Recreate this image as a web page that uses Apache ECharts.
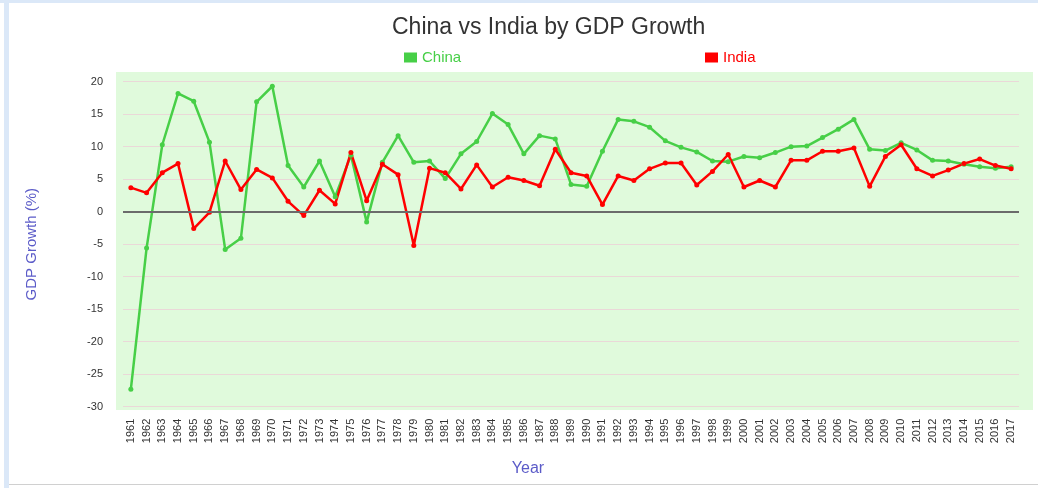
<!DOCTYPE html>
<html>
<head>
<meta charset="utf-8">
<script src="https://cdn.jsdelivr.net/npm/echarts@6/dist/echarts.min.js"></script>
<style>
    body { margin: 0; background: #fff; }
    #wrap { position: relative; width: 1038px; height: 488px; overflow: hidden; }
    #main { position: absolute; left: 0; top: 0; width: 1038px; height: 488px; }
    .edge-l { position: absolute; left: 4px; top: 0; width: 5px; height: 488px; background: #dbe8f8; }
    .edge-t { position: absolute; left: 0; top: 0; width: 1038px; height: 3px; background: #dbe8f8; }
    .edge-b { position: absolute; left: 9px; top: 484px; width: 1029px; height: 1px; background: #d0d0d0; }
</style>
</head>
<body>
<div id="wrap">
    <div id="main"></div>
    <div class="edge-l"></div>
    <div class="edge-t"></div>
    <div class="edge-b"></div>
</div>
<script>
// 年份
var years = ['1961','1962','1963','1964','1965','1966','1967','1968','1969','1970',
    '1971','1972','1973','1974','1975','1976','1977','1978','1979','1980',
    '1981','1982','1983','1984','1985','1986','1987','1988','1989','1990',
    '1991','1992','1993','1994','1995','1996','1997','1998','1999','2000',
    '2001','2002','2003','2004','2005','2006','2007','2008','2009','2010',
    '2011','2012','2013','2014','2015','2016','2017'];

// GDP growth (%)
var china = [-27.3, -5.6, 10.3, 18.2, 17.0, 10.7, -5.8, -4.1, 16.9, 19.3,
    7.1, 3.8, 7.8, 2.3, 8.7, -1.6, 7.6, 11.7, 7.6, 7.8,
    5.1, 8.9, 10.8, 15.1, 13.4, 8.9, 11.7, 11.2, 4.2, 3.9,
    9.3, 14.2, 13.9, 13.0, 10.9, 9.9, 9.2, 7.8, 7.7, 8.5,
    8.3, 9.1, 10.0, 10.1, 11.4, 12.7, 14.2, 9.6, 9.4, 10.6,
    9.5, 7.9, 7.8, 7.3, 6.9, 6.7, 6.9];
var india = [3.7, 2.9, 6.0, 7.4, -2.6, -0.1, 7.8, 3.4, 6.5, 5.2,
    1.6, -0.6, 3.3, 1.2, 9.1, 1.7, 7.3, 5.7, -5.2, 6.7,
    6.0, 3.5, 7.2, 3.8, 5.3, 4.8, 4.0, 9.6, 6.0, 5.5,
    1.1, 5.5, 4.8, 6.6, 7.5, 7.5, 4.1, 6.2, 8.8, 3.8,
    4.8, 3.8, 7.9, 7.9, 9.3, 9.3, 9.8, 3.9, 8.5, 10.3,
    6.6, 5.5, 6.4, 7.4, 8.1, 7.1, 6.6];

var yTicks = { min: -30, max: 20, interval: 5 };

var greenColor = '#47cf47';
var redColor = '#ff0000';
var nameColor = '#5b5bc8';

var myChart = echarts.init(document.getElementById('main'));
var option = {
    animation: false,
    textStyle: { fontFamily: 'Liberation Sans, Arial, sans-serif' },
    title: {
        text: 'China vs India by GDP Growth',
        left: 387,
        top: 11,
        textStyle: { fontSize: 23, fontWeight: 'normal', color: '#333' }
    },
    legend: [
        {
            data: ['China'],
            left: 399,
            top: 45,
            icon: 'rect',
            itemWidth: 13,
            itemHeight: 10,
            itemGap: 8,
            textStyle: { color: greenColor, fontSize: 15 }
        },
        {
            data: ['India'],
            left: 700,
            top: 45,
            icon: 'rect',
            itemWidth: 13,
            itemHeight: 10,
            textStyle: { color: redColor, fontSize: 15 }
        }
    ],
    grid: {
        left: 123,
        right: 19,
        top: 81.7,
        bottom: 81.3
    },
    graphic: [
        {
            type: 'rect',
            z: -10,
            shape: { x: 116, y: 72, width: 917, height: 338 },
            style: { fill: '#e0fadc' }
        }
    ],
    xAxis: {
        type: 'category',
        data: years,
        name: 'Year',
        nameLocation: 'middle',
        nameGap: 54,
        nameTextStyle: { color: nameColor, fontSize: 16, padding: [0, 86, 0, 0] },
        axisLine: { show: false, onZero: false },
        axisTick: { show: false },
        axisLabel: {
            rotate: 90,
            interval: 0,
            margin: 12,
            color: '#333',
            fontSize: 11
        }
    },
    yAxis: {
        type: 'value',
        min: yTicks.min,
        max: yTicks.max,
        interval: yTicks.interval,
        name: 'GDP Growth (%)',
        nameLocation: 'middle',
        nameGap: 84,
        nameTextStyle: { color: nameColor, fontSize: 15 },
        axisLine: { show: false },
        axisTick: { show: false },
        axisLabel: { color: '#333', fontSize: 11, margin: 20 },
        splitLine: { lineStyle: { color: '#ead8d8', width: 1 } }
    },
    series: [
        {
            name: 'China',
            type: 'line',
            data: china,
            color: greenColor,
            symbol: 'circle',
            symbolSize: 5,
            lineStyle: { width: 2.5 },
            markLine: {
                silent: true,
                symbol: 'none',
                label: { show: false },
                lineStyle: { color: '#6b6b6b', width: 2, type: 'solid' },
                data: [{ yAxis: 0 }]
            }
        },
        {
            name: 'India',
            type: 'line',
            data: india,
            color: redColor,
            symbol: 'circle',
            symbolSize: 5,
            lineStyle: { width: 2.5 }
        }
    ]
};
myChart.setOption(option);
window.addEventListener('resize', function () {
    myChart.resize();
});
</script>
</body>
</html>
